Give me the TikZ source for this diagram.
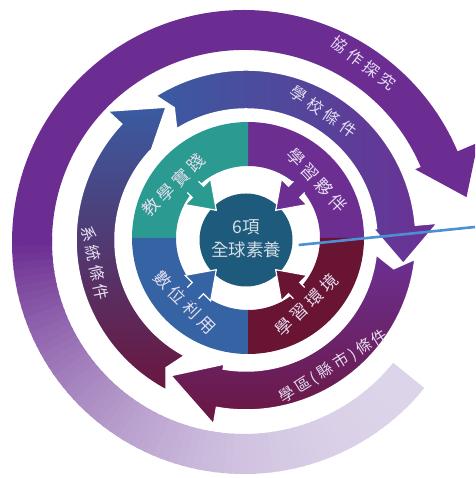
\documentclass[tikz,border=0pt]{standalone}
\usepackage{fontspec}
\newfontfamily\cjk{Noto Sans CJK TC}
\definecolor{opurple}{HTML}{6B2D91}
\definecolor{opale}{HTML}{DCD4E9}
\definecolor{mblue}{HTML}{3A5BA1}
\definecolor{mpurple}{HTML}{6C3094}
\definecolor{mmaroon}{HTML}{6A163F}
\definecolor{mmid}{HTML}{4E3A8A}
\definecolor{qteal}{HTML}{2B9A90}
\definecolor{qpurple}{HTML}{6C2E91}
\definecolor{qblue}{HTML}{3563A4}
\definecolor{qmaroon}{HTML}{6A1434}
\definecolor{corecol}{HTML}{1E5A7C}
\definecolor{txt}{HTML}{E4DDF0}
\definecolor{coretxtcol}{HTML}{D5DDE6}
\definecolor{pointercol}{HTML}{4A90D2}
\newcommand\gA{\hspace{4pt}}
\newcommand\gB{\hspace{3pt}}
% #1 tail angle, #2 head base angle, #3 inner r, #4 outer r, #5 head inner r, #6 head outer r, #7 tip angle, #8 tip r, #9 notch depth
\newcommand\arcarrow[9]{%
  (#1:#4) arc[start angle=#1, end angle=#2, radius=#4] -- (#2:#6) -- (#7:#8) -- (#2:#5) -- (#2:#3)
  arc[start angle=#2, end angle=#1, radius=#3] -- ({#1-#9}:{(#3+#4)/2}) -- cycle}
\begin{document}
\begin{tikzpicture}[x=1pt,y=1pt,
  ringtxt/.style={text=txt, font=\cjk\fontsize{16}{16}\selectfont, inner sep=0},
  disttxt/.style={text=txt, font=\cjk\fontsize{15.5}{15.5}\selectfont, inner sep=0},
  quadtxt/.style={text=txt, font=\cjk\fontsize{17}{17}\selectfont, inner sep=0},
  coretxt/.style={text=coretxtcol, font=\cjk\fontsize{17.5}{17.5}\selectfont, inner sep=0},
  band/.style={draw=white, line width=1.5pt},
  pointer/.style={draw=pointercol, line width=2.6pt}]
\useasboundingbox (-246,-238) rectangle (229,240);
\clip (-246,-238) rectangle (229,240);

% outer ring (fading tail)
\begin{scope}[shift={(-2,-2)}]
  \foreach \a in {-39,-41,...,-179}{
    \pgfmathsetmacro\p{100*pow(max((-38-\a)/141,0.01),2.2)}
    \fill[opurple!\p!opale] (\a:192) arc[start angle=\a, end angle=\a-2.6, radius=192]
      -- ({\a-2.6}:232) arc[start angle=\a-2.6, end angle=\a, radius=232] -- cycle;
  }
  \fill[opurple] \arcarrow{-180}{-337}{192}{232}{186}{254}{-348.6}{227}{0};
\end{scope}
\node[ringtxt, rotate=-37] (ot) at (117.5,177) {協\gA 作\gA 探\gA 究};

% middle ring
\shadedraw[band, left color=mblue, right color=mpurple] \arcarrow{122}{5}{131}{170}{128}{192}{-8.5}{159}{3.5};
\shadedraw[band, top color=mpurple, bottom color=mmaroon] \arcarrow{-6.5}{-100}{131}{170}{126}{187}{-119}{155}{4.5};
\shadedraw[band, top color=mblue, middle color=mmid, bottom color=mmaroon] \arcarrow{-118}{-223}{131}{170}{130}{189}{-239}{155}{4};

\node[ringtxt, rotate=-35] (mt) at (77.5,128.5) {學\gA 校\gA 條\gA 件};
\node[ringtxt, rotate=-78] (st) at (-151,-23) {系\gA 統\gA 條\gA 件};
\node[disttxt, rotate=32] (dt) at (87.5,-126.5) {學\gB 區\gB (\gB 縣\gB 市\gB )\gB 條\gB 件};

% quadrant ring
\begin{scope}[shift={(2,2)}]
  \fill[qpurple] (0:116) arc[start angle=0, end angle=90, radius=116] -- (90:72) arc[start angle=90, end angle=0, radius=72] -- cycle;
  \fill[qteal] (90:116) arc[start angle=90, end angle=180, radius=116] -- (180:72) arc[start angle=180, end angle=90, radius=72] -- cycle;
  \fill[qblue] (180:116) arc[start angle=180, end angle=270, radius=116] -- (270:72) arc[start angle=270, end angle=180, radius=72] -- cycle;
  \fill[qmaroon] (270:116) arc[start angle=270, end angle=360, radius=116] -- (360:72) arc[start angle=360, end angle=270, radius=72] -- cycle;
\end{scope}
\node[quadtxt, rotate=45] (qa) at (-72.5,55) {教\gA 學\gA 實\gA 踐};
\node[quadtxt, rotate=-47] (qb) at (71,60) {學\gA 習\gA 夥\gA 伴};
\node[quadtxt, rotate=-45] (qc) at (-61,-62.5) {數\gA 位\gA 利\gA 用};
\node[quadtxt, rotate=44] (qd) at (60.5,-65) {學\gA 習\gA 環\gA 境};

% core
\node[circle, fill=corecol, minimum size=93, inner sep=0] (core) at (0,0) {};
\foreach \ang/\col in {135/qteal, 45/qpurple, 225/qblue, -45/qmaroon}{
  \fill[\col, rotate=\ang] (82,8) -- (68,8) -- (68,18) -- (42,0) -- (68,-18) -- (68,-8) -- (82,-8) -- cycle;
  \draw[white, line width=1.2pt, rotate=\ang] (75,8) -- (68,8) -- (68,18) -- (42,0) -- (68,-18) -- (68,-8) -- (75,-8);
}
\node[coretxt] (c1) at (0,13) {6項};
\node[coretxt] (c2) at (0,-10) {全球素養};

% pointer line
\coordinate (pend) at (229,13);
\draw[pointer] ([shift={(6,-5)}]core.east) -- (pend);
\end{tikzpicture}
\end{document}
